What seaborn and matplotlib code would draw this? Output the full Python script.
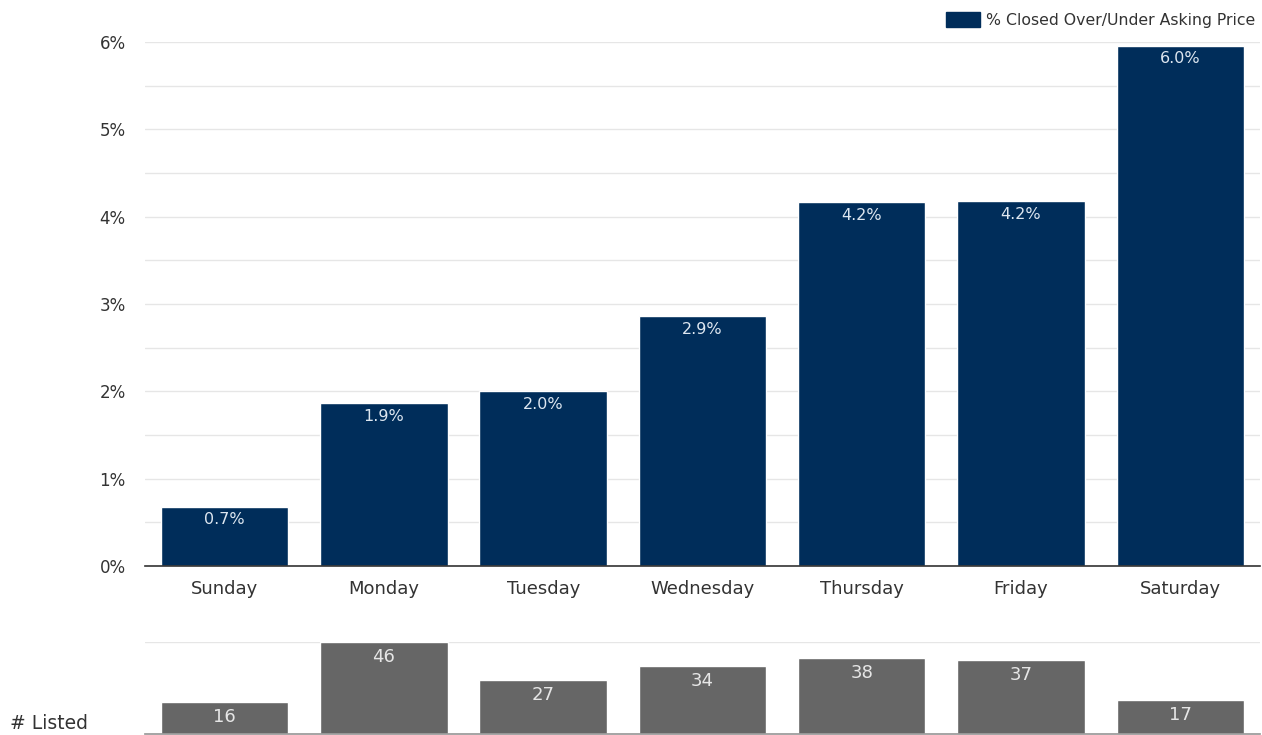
import matplotlib
matplotlib.use("Agg")
import matplotlib.pyplot as plt
import seaborn as sns
import pandas as pd
from matplotlib.patches import Patch
from matplotlib.ticker import MultipleLocator, FuncFormatter

days = ["Sunday", "Monday", "Tuesday", "Wednesday", "Thursday", "Friday", "Saturday"]
pct_closed = [0.68, 1.87, 2.0, 2.86, 4.17, 4.18, 5.96]
pct_labels = ["0.7%", "1.9%", "2.0%", "2.9%", "4.2%", "4.2%", "6.0%"]
num_listed = [16, 46, 27, 34, 38, 37, 17]
legend_label = "% Closed Over/Under Asking Price"

sns.set_theme(style="white")
plt.rcParams["font.family"] = ["DejaVu Sans"]

navy = "#002d5a"
gray = "#666666"
text_col = "#333333"

df = pd.DataFrame({"day": days, "pct": pct_closed, "listed": num_listed})

fig = plt.figure(figsize=(12.62, 7.35), dpi=100)
ax = fig.add_axes([0.1149, 0.2299, 0.8835, 0.7129])
ax2 = fig.add_axes([0.1149, 0.0014, 0.8835, 0.1252])

sns.barplot(data=df, x="day", y="pct", color=navy, saturation=1, width=0.8, ax=ax)
ax.set_ylim(0, 6)
ax.set_xlim(-0.5, 6.5)
ax.yaxis.set_major_locator(MultipleLocator(1))
ax.yaxis.set_minor_locator(MultipleLocator(0.5))
ax.yaxis.set_major_formatter(FuncFormatter(lambda v, p: f"{v:.0f}%"))
ax.grid(axis="y", which="both", color="#e6e6e6", linewidth=1)
ax.set_axisbelow(True)
for s in ["top", "right", "left"]:
    ax.spines[s].set_visible(False)
ax.spines["bottom"].set_color(text_col)
ax.spines["bottom"].set_linewidth(1.2)
ax.tick_params(axis="y", length=0, pad=14, labelsize=12, labelcolor=text_col)
ax.tick_params(axis="x", length=0, pad=10, labelsize=13, labelcolor=text_col)
ax.set_xlabel("")
ax.set_ylabel("")
ax.bar_label(ax.containers[0], labels=pct_labels, padding=-15, color="#dde6f0", fontsize=11.5)

sns.barplot(data=df, x="day", y="listed", color=gray, saturation=1, width=0.8, ax=ax2)
ax2.set_ylim(0, 46)
ax2.set_xlim(-0.5, 6.5)
ax2.set_yticks([46])
ax2.grid(axis="y", color="#e6e6e6", linewidth=1)
ax2.set_axisbelow(True)
ax2.set_yticklabels([])
ax2.set_xticklabels([])
ax2.tick_params(length=0)
for s in ["top", "right", "left"]:
    ax2.spines[s].set_visible(False)
ax2.spines["bottom"].set_color("#999999")
ax2.set_xlabel("")
ax2.set_ylabel("")
ax2.bar_label(ax2.containers[0], labels=[str(v) for v in num_listed], padding=-17,
              color="#e6e6e6", fontsize=13)

fig.text(0.008, 0.003, "# Listed", ha="left", va="bottom", fontsize=13.5, color=text_col)

handle = Patch(facecolor=navy, edgecolor=navy)
fig.legend([handle], [legend_label], loc="upper right", bbox_to_anchor=(1.0, 0.992),
           frameon=False, fontsize=11.3, handlelength=2.2, handleheight=1.1,
           handletextpad=0.4, borderaxespad=0.2, borderpad=0.2, labelcolor=text_col)

fig.savefig("out.png", dpi=100)
